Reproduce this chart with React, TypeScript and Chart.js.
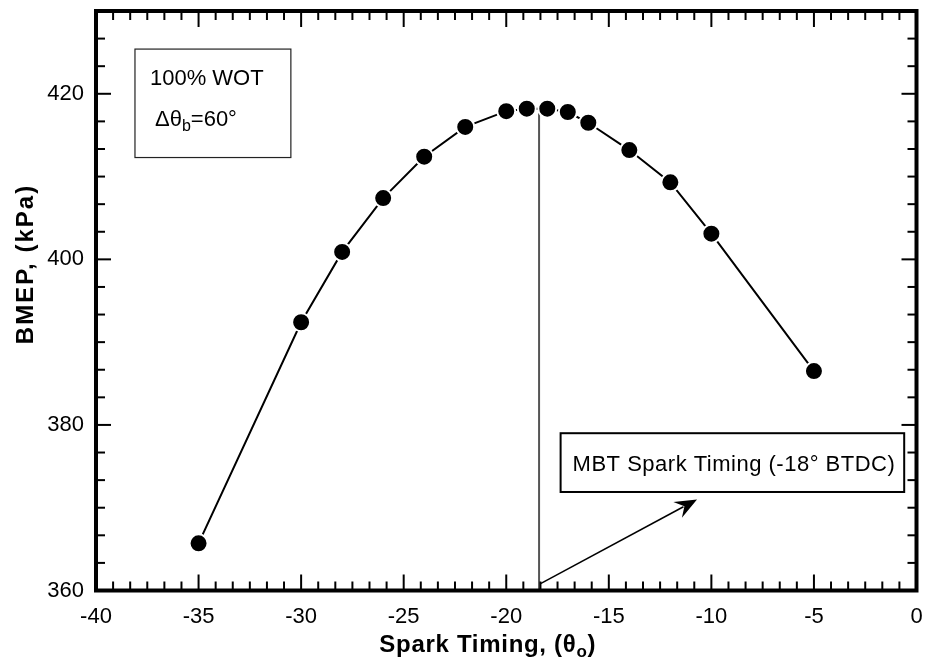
import React, { useEffect, useRef } from "react";
import { Chart, registerables } from "chart.js";

Chart.register(...registerables);

// ---- data ----
const sparkTiming = [-35, -30, -28, -26, -24, -22, -20, -19, -18, -17, -16, -14, -12, -10, -5];
const bmep = [365.7, 392.4, 400.9, 407.4, 412.4, 416.0, 417.9, 418.2, 418.2, 417.8, 416.5, 413.2, 409.3, 403.1, 386.5];
const xTicks = [-40, -35, -30, -25, -20, -15, -10, -5, 0];
const yTicks = [360, 380, 400, 420];
const mbtTiming = -18.4;
const mbtPeakBmep = 417.9;
const boxLine1 = "100% WOT";
const mbtLabel = "MBT Spark Timing (-18° BTDC)";

const FONT = "'Liberation Sans', Arial, sans-serif";

// annotation placement (data coordinates)
const infoBox = { x0: -38.1, x1: -30.5, y0: 425.4, y1: 412.3 };
const mbtBox = { x0: -17.35, x1: -0.6, y0: 379.0, y1: 371.9 };
const arrowFrom = { x: -18.35, y: 360.8 };
const arrowTo = { x: -10.7, y: 371.0 };
const xTitleCenter = -20.9;

const framePlugin = {
  id: "framePlugin",
  beforeDatasetsDraw(chart: any) {
    const { ctx, scales } = chart;
    const x = scales.x, y = scales.y;
    ctx.save();
    ctx.strokeStyle = "#555";
    ctx.lineWidth = 2;
    ctx.beginPath();
    ctx.moveTo(x.getPixelForValue(mbtTiming), y.getPixelForValue(360));
    ctx.lineTo(x.getPixelForValue(mbtTiming), y.getPixelForValue(mbtPeakBmep));
    ctx.stroke();
    ctx.restore();
  },
  afterDraw(chart: any) {
    const { ctx, chartArea: a, scales } = chart;
    const x = scales.x, y = scales.y;
    ctx.save();
    ctx.strokeStyle = "#000";
    ctx.lineWidth = 2;
    const seg = (x0: number, y0: number, x1: number, y1: number) => {
      ctx.beginPath();
      ctx.moveTo(x0, y0);
      ctx.lineTo(x1, y1);
      ctx.stroke();
    };
    // x ticks (6 subdivisions per major)
    const xStep = 5 / 6;
    const nx = Math.round((x.max - x.min) / xStep);
    for (let i = 0; i <= nx; i++) {
      const px = x.getPixelForValue(x.min + i * xStep);
      const len = i % 6 === 0 ? 16 : 9;
      seg(px, a.bottom, px, a.bottom - len);
      seg(px, a.top, px, a.top + len);
    }
    const yStep = 20 / 6;
    const ny = Math.round((y.max - y.min) / yStep);
    for (let i = 0; i <= ny; i++) {
      const py = y.getPixelForValue(y.min + i * yStep);
      const len = i % 6 === 0 ? 15 : 9;
      seg(a.left, py, a.left + len, py);
      seg(a.right, py, a.right - len, py);
    }
    // frame
    ctx.lineWidth = 4;
    ctx.strokeRect(a.left, a.top, a.right - a.left, a.bottom - a.top);

    // info box
    ctx.lineWidth = 1.2;
    ctx.strokeStyle = "#222";
    const bx0 = x.getPixelForValue(infoBox.x0), bx1 = x.getPixelForValue(infoBox.x1);
    const by0 = y.getPixelForValue(infoBox.y0), by1 = y.getPixelForValue(infoBox.y1);
    ctx.strokeRect(bx0, by0, bx1 - bx0, by1 - by0);
    ctx.fillStyle = "#000";
    ctx.textBaseline = "alphabetic";
    ctx.textAlign = "left";
    ctx.font = `22px ${FONT}`;
    ctx.fillText(boxLine1, bx0 + 15, by0 + 36);
    // Δθb=60°
    let tx = bx0 + 20;
    const ty = by0 + 77;
    ctx.font = `22px ${FONT}`;
    ctx.fillText("Δθ", tx, ty);
    tx += ctx.measureText("Δθ").width;
    ctx.font = `16px ${FONT}`;
    ctx.fillText("b", tx, ty + 5);
    tx += ctx.measureText("b").width;
    ctx.font = `22px ${FONT}`;
    ctx.fillText("=60°", tx, ty);

    // MBT box
    const mx0 = x.getPixelForValue(mbtBox.x0), mx1 = x.getPixelForValue(mbtBox.x1);
    const my0 = y.getPixelForValue(mbtBox.y0), my1 = y.getPixelForValue(mbtBox.y1);
    ctx.lineWidth = 2;
    ctx.strokeStyle = "#000";
    ctx.strokeRect(mx0, my0, mx1 - mx0, my1 - my0);
    ctx.save();
    ctx.font = `22px ${FONT}`;
    (ctx as any).letterSpacing = "0.5px";
    ctx.textAlign = "left";
    ctx.fillText(mbtLabel, mx0 + 12, (my0 + my1) / 2 + 8);
    ctx.restore();

    // arrow
    const ax0 = x.getPixelForValue(arrowFrom.x), ay0 = y.getPixelForValue(arrowFrom.y);
    const ax1 = x.getPixelForValue(arrowTo.x), ay1 = y.getPixelForValue(arrowTo.y);
    const ang = Math.atan2(ay1 - ay0, ax1 - ax0);
    const hl = 22, hw = 9;
    const bxh = ax1 - hl * Math.cos(ang), byh = ay1 - hl * Math.sin(ang);
    ctx.lineWidth = 1.5;
    seg(ax0, ay0, ax1 - hl * 0.7 * Math.cos(ang), ay1 - hl * 0.7 * Math.sin(ang));
    ctx.beginPath();
    ctx.moveTo(ax1, ay1);
    ctx.lineTo(bxh + hw * Math.sin(ang), byh - hw * Math.cos(ang));
    ctx.lineTo(ax1 - hl * 0.65 * Math.cos(ang), ay1 - hl * 0.65 * Math.sin(ang));
    ctx.lineTo(bxh - hw * Math.sin(ang), byh + hw * Math.cos(ang));
    ctx.closePath();
    ctx.fill();

    // axis titles
    ctx.fillStyle = "#000";
    ctx.textAlign = "left";
    const xt1 = "Spark Timing, (θ";
    const xtSub = "o";
    const xt2 = ")";
    ctx.save();
    (ctx as any).letterSpacing = "0.7px";
    ctx.font = `bold 24px ${FONT}`;
    const w1 = ctx.measureText(xt1).width;
    const w3 = ctx.measureText(xt2).width;
    ctx.font = `bold 17px ${FONT}`;
    const w2 = ctx.measureText(xtSub).width;
    const total = w1 + w2 + w3;
    let sx = x.getPixelForValue(xTitleCenter) - total / 2;
    const sy = 652;
    ctx.font = `bold 24px ${FONT}`;
    ctx.fillText(xt1, sx, sy);
    sx += w1;
    ctx.font = `bold 17px ${FONT}`;
    ctx.fillText(xtSub, sx, sy + 5);
    sx += w2;
    ctx.font = `bold 24px ${FONT}`;
    ctx.fillText(xt2, sx, sy);
    ctx.restore();

    ctx.save();
    ctx.translate(33, 264);
    ctx.rotate(-Math.PI / 2);
    ctx.font = `bold 24px ${FONT}`;
    (ctx as any).letterSpacing = "2px";
    ctx.textAlign = "center";
    ctx.fillText("BMEP, (kPa)", 0, 0);
    ctx.restore();

    ctx.restore();
  },
};

export default function App() {
  const ref = useRef<HTMLCanvasElement>(null);
  useEffect(() => {
    if (!ref.current) return;
    const chart = new Chart(ref.current, {
      type: "line",
      data: {
        datasets: [
          {
            data: sparkTiming.map((v, i) => ({ x: v, y: bmep[i] })),
            borderColor: "#000",
            borderWidth: 2,
            pointRadius: 9,
            pointBackgroundColor: "#000",
            pointBorderColor: "#fff",
            pointBorderWidth: 2,
            tension: 0,
          },
        ],
      },
      options: {
        animation: false,
        responsive: false,
        devicePixelRatio: 1,
        layout: { padding: { top: 11, right: 11.5, left: 0, bottom: 0 } },
        plugins: { legend: { display: false }, tooltip: { enabled: false } },
        scales: {
          x: {
            type: "linear",
            min: -40,
            max: 0,
            afterBuildTicks: (s: any) => {
              s.ticks = xTicks.map((v) => ({ value: v }));
            },
            afterFit: (s: any) => {
              s.height = 71.5;
              s.paddingLeft = 0;
              s.paddingRight = 0;
            },
            grid: { display: false, drawTicks: false },
            border: { display: false },
            ticks: {
              color: "#000",
              font: { family: FONT, size: 22 },
              padding: 13,
              maxRotation: 0,
              autoSkip: false,
            },
          },
          y: {
            type: "linear",
            min: 360,
            max: 430,
            afterBuildTicks: (s: any) => {
              s.ticks = yTicks.map((v) => ({ value: v }));
            },
            afterFit: (s: any) => {
              s.width = 96;
              s.paddingTop = 0;
              s.paddingBottom = 0;
            },
            grid: { display: false, drawTicks: false },
            border: { display: false },
            ticks: {
              color: "#000",
              font: { family: FONT, size: 22 },
              padding: 12,
            },
          },
        },
      },
      plugins: [framePlugin],
    });
    return () => chart.destroy();
  }, []);
  return (
    <canvas
      ref={ref}
      width={928}
      height={662}
      style={{ position: "fixed", left: 0, top: 0, width: 928, height: 662, background: "#fff" }}
    />
  );
}
